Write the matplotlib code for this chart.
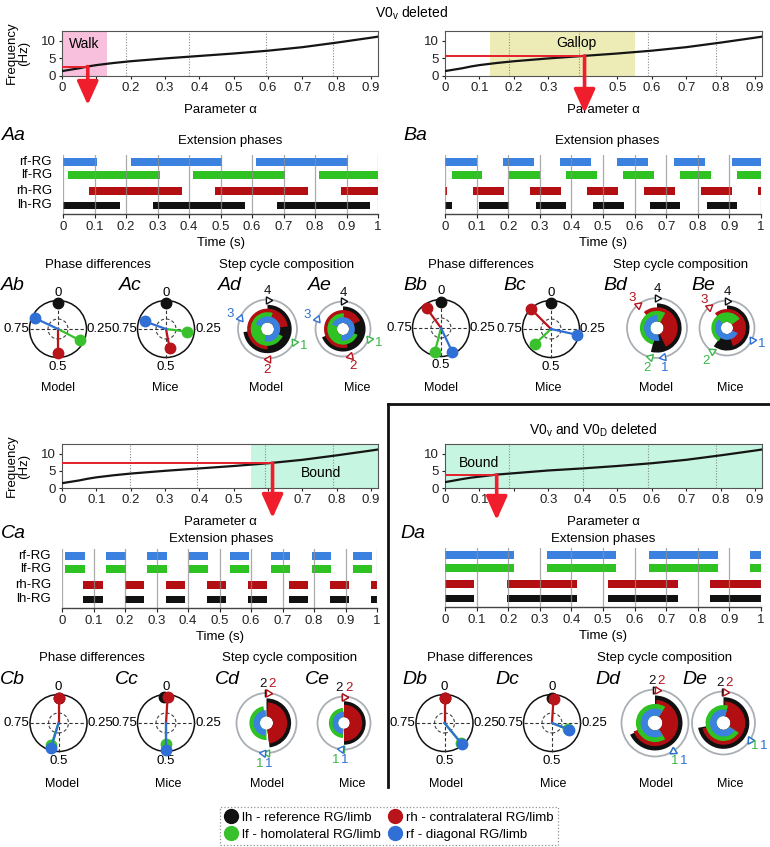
import numpy as np
import matplotlib
matplotlib.use('Agg')
import matplotlib.pyplot as plt
from matplotlib.patches import Circle, Wedge
from matplotlib.lines import Line2D

plt.rcParams['font.family'] = ['Liberation Sans', 'DejaVu Sans']
plt.rcParams['font.size'] = 9.5
plt.rcParams['mathtext.fontset'] = 'custom'
plt.rcParams['mathtext.rm'] = 'Liberation Sans'
plt.rcParams['mathtext.it'] = 'Liberation Sans:italic'

# ---------------- data ----------------
LIMBS = ['lh', 'lf', 'rh', 'rf']
ALPHA = [0.0, 0.05, 0.075, 0.1, 0.15, 0.2, 0.3, 0.4, 0.5, 0.6, 0.7, 0.8, 0.9, 0.92]
FREQ_V0V = [1.4, 2.2, 2.7, 3.1, 3.7, 4.2, 5.0, 5.7, 6.4, 7.2, 8.2, 9.5, 10.9, 11.2]
FREQ_V0V_V0D = [1.7, 2.6, 3.0, 3.3, 3.9, 4.3, 5.1, 5.7, 6.4, 7.2, 8.2, 9.5, 10.9, 11.2]
ALPHA_TICKS = [0.0, 0.1, 0.2, 0.3, 0.4, 0.5, 0.6, 0.7, 0.8, 0.9]
FREQ_TICKS = [0, 5, 10]
TIME_TICKS = [0.0, 0.1, 0.2, 0.3, 0.4, 0.5, 0.6, 0.7, 0.8, 0.9, 1.0]

# operating points (alpha, frequency) and gait regions
OP_A = (0.075, 2.7)
OP_B = (0.405, 5.7)
OP_C = (0.613, 7.2)
OP_D = (0.15, 3.8)
REGION_A = (0.0, 0.13)
REGION_B = (0.13, 0.55)
REGION_C = (0.55, 0.92)
REGION_D = (0.0, 0.92)
GRID_A = [0.185, 0.37, 0.595, 0.79]
GRID_B = [0.185, 0.39, 0.59, 0.787]
GRID_C = [0.198, 0.394, 0.59, 0.79]
GRID_D = [0.185, 0.40, 0.59, 0.787]

# extension phases (start, end) in seconds
AA_RF = [(0.0, 0.107), (0.215, 0.506), (0.612, 0.905)]
AA_LF = [(0.015, 0.308), (0.414, 0.706), (0.812, 1.0)]
AA_RH = [(0.084, 0.379), (0.483, 0.778), (0.882, 1.0)]
AA_LH = [(0.0, 0.18), (0.285, 0.578), (0.68, 0.975)]

BA_RF = [(0.0, 0.102), (0.185, 0.282), (0.365, 0.462), (0.545, 0.643), (0.726, 0.823), (0.907, 1.0)]
BA_LF = [(0.021, 0.118), (0.203, 0.30), (0.383, 0.48), (0.563, 0.66), (0.745, 0.841), (0.925, 1.0)]
BA_RH = [(0.0, 0.006), (0.089, 0.187), (0.269, 0.367), (0.45, 0.549), (0.631, 0.728), (0.811, 0.909), (0.99, 1.0)]
BA_LH = [(0.0, 0.023), (0.108, 0.204), (0.287, 0.384), (0.467, 0.565), (0.649, 0.745), (0.829, 0.925)]

CA_RF = [(0.011, 0.072), (0.141, 0.202), (0.271, 0.333), (0.402, 0.463), (0.532, 0.593), (0.663, 0.724), (0.793, 0.855), (0.924, 0.985)]
CA_LF = [(0.011, 0.072), (0.141, 0.202), (0.271, 0.333), (0.402, 0.463), (0.532, 0.593), (0.663, 0.724), (0.793, 0.855), (0.924, 0.985)]
CA_RH = [(0.068, 0.129), (0.199, 0.26), (0.329, 0.391), (0.46, 0.521), (0.59, 0.651), (0.721, 0.782), (0.851, 0.912), (0.981, 1.0)]
CA_LH = [(0.068, 0.129), (0.199, 0.26), (0.329, 0.391), (0.46, 0.521), (0.59, 0.651), (0.721, 0.782), (0.851, 0.912), (0.981, 1.0)]

DA_RF = [(0.0, 0.219), (0.324, 0.542), (0.645, 0.863), (0.966, 1.0)]
DA_LF = [(0.0, 0.219), (0.324, 0.542), (0.645, 0.863), (0.966, 1.0)]
DA_RH = [(0.0, 0.093), (0.196, 0.417), (0.517, 0.736), (0.839, 1.0)]
DA_LH = [(0.0, 0.093), (0.196, 0.417), (0.517, 0.736), (0.839, 1.0)]

# phase differences (order lh, lf, rh, rf)
PD_AB_PHASE = [0.0, 0.326, 0.5, 0.82]
PD_AB_LEN = [0.92, 0.86, 0.84, 0.90]
PD_AC_PHASE = [0.0, 0.27, 0.47, 0.805]
PD_AC_LEN = [0.92, 0.74, 0.68, 0.80]
PD_BB_PHASE = [0.0, 0.54, 0.90, 0.43]
PD_BB_LEN = [0.92, 0.86, 0.86, 0.92]
PD_BC_PHASE = [0.0, 0.63, 0.875, 0.285]
PD_BC_LEN = [0.92, 0.78, 0.97, 0.95]
PD_CB_PHASE = [0.0, 0.55, 0.0, 0.545]
PD_CB_LEN = [0.88, 0.82, 0.88, 0.93]
PD_CC_PHASE = [0.99, 0.5, 0.01, 0.5]
PD_CC_LEN = [0.9, 0.74, 0.9, 0.93]
PD_DB_PHASE = [0.0, 0.39, 0.0, 0.39]
PD_DB_LEN = [0.86, 0.9, 0.86, 0.94]
PD_DC_PHASE = [0.0, 0.31, 0.01, 0.31]
PD_DC_LEN = [0.86, 0.6, 0.86, 0.63]

# step cycle composition (order lh, lf, rh, rf)
SC_AD_ONSET = [0.0, 0.32, 0.5, 0.81]
SC_AD_DUTY = [0.73, 0.73, 0.73, 0.73]
SC_AE_ONSET = [0.0, 0.31, 0.46, 0.81]
SC_AE_DUTY = [0.69, 0.70, 0.72, 0.72]
SC_A_ORDER = ['4', '1', '2', '3']
SC_BD_ONSET = [0.0, 0.54, 0.89, 0.47]
SC_BD_DUTY = [0.54, 0.54, 0.54, 0.54]
SC_BE_ONSET = [0.0, 0.59, 0.89, 0.32]
SC_BE_DUTY = [0.60, 0.56, 0.56, 0.56]
SC_B_ORDER = ['4', '2', '3', '1']
SC_CD_ONSET = [0.0, 0.50, 0.01, 0.52]
SC_CD_DUTY = [0.48, 0.47, 0.47, 0.47]
SC_CE_ONSET = [0.0, 0.51, 0.0, 0.52]
SC_CE_DUTY = [0.50, 0.48, 0.50, 0.48]
SC_C_ORDER = ['2', '1', '2', '1']
SC_DD_ONSET = [0.0, 0.41, 0.01, 0.41]
SC_DD_DUTY = [0.68, 0.68, 0.68, 0.68]
SC_DE_ONSET = [0.0, 0.34, 0.01, 0.34]
SC_DE_DUTY = [0.72, 0.70, 0.70, 0.70]
SC_D_ORDER = ['2', '1', '2', '1']

LEGEND_LABELS = ['lh - reference RG/limb', 'lf - homolateral RG/limb',
                 'rh - contralateral RG/limb', 'rf - diagonal RG/limb']
ROW_LABELS = ['rf-RG', 'lf-RG', 'rh-RG', 'lh-RG']

# ---------------- style ----------------
BAR_C = {'lh': '#111111', 'lf': '#2fc223', 'rh': '#b30e12', 'rf': '#3b82e0'}
DOT_C = {'lh': '#111111', 'lf': '#39c12d', 'rh': '#b8141a', 'rf': '#2f6fd6'}
NUM_C = {'lh': '#111111', 'lf': '#3bb54a', 'rh': '#b5121b', 'rf': '#2e6fd8'}
ARROW_C = '#f01e2c'
LINE_C = '#e4202c'

W, H = 770, 847
fig = plt.figure(figsize=(W / 100, H / 100), dpi=100)


def px_axes(left, top, width, height):
    ax = fig.add_axes([left / W, 1 - (top + height) / H, width / W, height / H])
    ax.patch.set_alpha(0)
    return ax


def ftext(x, y, s, **kw):
    kw.setdefault('ha', 'center')
    kw.setdefault('va', 'center')
    fig.text(x / W, 1 - y / H, s, **kw)


def freq_panel(left, top, width, height, freq, region, rcolor, rlabel, rlabel_xy,
               op, tip_px, grid, hide_tick):
    ax = px_axes(left, top, width, height)
    ax.set_xlim(0, 0.92)
    ax.set_ylim(0, 12.8)
    ax.axvspan(region[0], region[1], color=rcolor, lw=0, zorder=0)
    for g in grid:
        ax.axvline(g, color='#8a8a8a', ls=(0, (1, 1.5)), lw=0.8, zorder=1)
    ax.plot(ALPHA, freq, color='#151515', lw=1.6, zorder=3)
    ax.plot([0, op[0]], [op[1], op[1]], color=LINE_C, lw=1.4, zorder=4)
    ax.text(rlabel_xy[0], rlabel_xy[1], rlabel, ha='center', va='center', fontsize=10)
    tip_frac = -(tip_px - (top + height)) / height
    ax.annotate('', xy=(op[0], tip_frac), xycoords=('data', 'axes fraction'),
                xytext=(op[0], op[1]), textcoords='data',
                arrowprops=dict(arrowstyle='-|>,head_width=0.36,head_length=0.8',
                                color=ARROW_C, lw=2.6, shrinkA=0, shrinkB=0,
                                mutation_scale=18),
                annotation_clip=False, zorder=6)
    ax.set_xticks(ALPHA_TICKS)
    ax.set_xticklabels(['' if abs(t - hide_tick) < 1e-6 else ('0' if t == 0 else f'{t:g}')
                        for t in ALPHA_TICKS])
    ax.set_yticks(FREQ_TICKS)
    ax.tick_params(length=2.5, width=0.8, pad=2, colors='#222', labelsize=9.5)
    for s in ax.spines.values():
        s.set_color('#555')
        s.set_linewidth(0.8)
    ax.set_xlabel('Parameter \u03b1', labelpad=7, fontsize=9.5)
    return ax


def ext_panel(left, top, width, bars, show_rows):
    height = 59
    ax = px_axes(left, top, width, height)
    ax.set_xlim(0, 1)
    ax.set_ylim(0, height)
    rows = {'rf': 52, 'lf': 39, 'rh': 23, 'lh': 8.5}
    for limb in ['rf', 'lf', 'rh', 'lh']:
        segs = bars[limb]
        ax.broken_barh([(s, e - s) for s, e in segs], (rows[limb] - 3.6, 7.2),
                       facecolors=BAR_C[limb], zorder=2)
    for t in TIME_TICKS:
        ax.axvline(t, color='#8f8f8f', lw=0.9, alpha=0.75, zorder=3)
    for side in ['top', 'right', 'left']:
        ax.spines[side].set_visible(False)
    ax.spines['bottom'].set_color('#444')
    ax.spines['bottom'].set_linewidth(1.0)
    ax.set_yticks([])
    ax.set_xticks(TIME_TICKS)
    ax.set_xticklabels(['0' if t == 0 else ('1' if t == 1 else f'{t:g}') for t in TIME_TICKS])
    ax.tick_params(axis='x', length=3, width=0.8, pad=2, colors='#222', labelsize=9.5)
    ax.set_xlabel('Time (s)', labelpad=3, fontsize=9.5)
    if show_rows:
        for name, limb in zip(ROW_LABELS, ['rf', 'lf', 'rh', 'lh']):
            ax.text(-0.035, rows[limb], name, ha='right', va='center', fontsize=9.5)
    return ax


def phase_panel(cx, cy, phases, lengths, R=28.5):
    half = R + 32
    ax = px_axes(cx - half, cy - half, 2 * half, 2 * half)
    ax.set_xlim(-half, half)
    ax.set_ylim(-half, half)
    ax.set_aspect('equal')
    ax.axis('off')
    ax.add_patch(Circle((0, 0), R, fill=False, ec='#111', lw=1.1, zorder=1))
    ax.add_patch(Circle((0, 0), 0.35 * R, fill=False, ec='#444', lw=0.8,
                        ls=(0, (3, 2)), zorder=1))
    ax.plot([-R, R], [0, 0], color='#333', lw=0.8, ls=(0, (3, 2)), zorder=1)
    ax.plot([0, 0], [-R, R], color='#333', lw=0.8, ls=(0, (3, 2)), zorder=1)
    ax.text(0, R + 8, '0', ha='center', va='center', fontsize=9.5)
    ax.text(0, -R - 9, '0.5', ha='center', va='center', fontsize=9.5)
    ax.text(-R - 0.5, 0, '0.75', ha='right', va='center', fontsize=9.5)
    ax.text(R + 0.5, 0, '0.25', ha='left', va='center', fontsize=9.5)
    for i, limb in enumerate(LIMBS):
        ph, ln = phases[i], lengths[i]
        x = ln * R * np.sin(2 * np.pi * ph)
        y = ln * R * np.cos(2 * np.pi * ph)
        if limb != 'lh':
            ax.plot([0, x], [0, y], color=DOT_C[limb], lw=1.6, zorder=3 + i)
        ax.plot(x, y, 'o', ms=7.5, color=DOT_C[limb], zorder=3 + i)
    return ax


def step_panel(cx, cy, R, onset, duty, order):
    half = R + 22
    ax = px_axes(cx - half, cy - half, 2 * half, 2 * half)
    ax.set_xlim(-half, half)
    ax.set_ylim(-half, half)
    ax.set_aspect('equal')
    ax.axis('off')
    ax.add_patch(Circle((0, 0), R, fill=False, ec='#a9afb4', lw=1.3, zorder=1))
    hole = 0.22 * R
    radius = {'lh': 0.82, 'rh': 0.69, 'lf': 0.57, 'rf': 0.43}
    for limb in ['lh', 'rh', 'lf', 'rf']:
        i = LIMBS.index(limb)
        p0, p1 = onset[i], onset[i] + duty[i]
        r = radius[limb] * R
        ax.add_patch(Wedge((0, 0), r, 90 - 360 * p1, 90 - 360 * p0, width=r - hole,
                           facecolor=BAR_C[limb], edgecolor='none', zorder=2))
    # triangles and order numbers
    for i, limb in enumerate(LIMBS):
        ph = onset[i]
        x, y = R * np.sin(2 * np.pi * ph), R * np.cos(2 * np.pi * ph)
        ax.plot(x, y, marker=(3, 0, -360 * ph - 90), ms=6, mfc='white',
                mec=NUM_C[limb], mew=1.0, zorder=5, ls='None')
        partners = [j for j in range(4) if j != i and
                    min(abs(onset[j] - ph), 1 - abs(onset[j] - ph)) < 0.04]
        dx = 0
        base = ph
        if partners:
            j = partners[0]
            d = onset[j] - ph
            d = d - round(d)
            base = ph + d / 2
            dx = -4.5 if i < j else 4.5
        dist = R + 9 if np.cos(2 * np.pi * base) > 0.5 else R + 11
        lx = dist * np.sin(2 * np.pi * base) + dx
        ly = dist * np.cos(2 * np.pi * base)
        ax.text(lx, ly, order[i], color=NUM_C[limb], ha='center', va='center',
                fontsize=9.5, zorder=6)
    return ax


# ---------------- panel A / B (V0v deleted) ----------------
ftext(411, 13, 'V0$_\\mathregular{v}$ deleted', fontsize=10)
ftext(18, 53, 'Frequency\n(Hz)', rotation=90, linespacing=1.05, fontsize=9.5)
freq_panel(62, 31, 316, 45, FREQ_V0V, REGION_A, '#f8c0dc', 'Walk', (0.065, 9.0),
           OP_A, 105, GRID_A, 0.1)
freq_panel(445, 31, 317, 45, FREQ_V0V, REGION_B, '#eeecb6', 'Gallop', (0.38, 9.5),
           OP_B, 113, GRID_B, 0.4)

ftext(230, 141, 'Extension phases')
ftext(607, 141, 'Extension phases')
ext_panel(63, 155, 315, {'rf': AA_RF, 'lf': AA_LF, 'rh': AA_RH, 'lh': AA_LH}, True)
ext_panel(445, 155, 316, {'rf': BA_RF, 'lf': BA_LF, 'rh': BA_RH, 'lh': BA_LH}, False)

ftext(98, 265, 'Phase differences')
ftext(287, 265, 'Step cycle composition')
ftext(481, 265, 'Phase differences')
ftext(681, 265, 'Step cycle composition')

phase_panel(58, 329, PD_AB_PHASE, PD_AB_LEN)
phase_panel(166, 329, PD_AC_PHASE, PD_AC_LEN)
phase_panel(441, 328, PD_BB_PHASE, PD_BB_LEN)
phase_panel(551, 329, PD_BC_PHASE, PD_BC_LEN)
step_panel(267.5, 329, 29.5, SC_AD_ONSET, SC_AD_DUTY, SC_A_ORDER)
step_panel(343, 329, 27.5, SC_AE_ONSET, SC_AE_DUTY, SC_A_ORDER)
step_panel(657, 328, 30, SC_BD_ONSET, SC_BD_DUTY, SC_B_ORDER)
step_panel(727, 328, 27.5, SC_BE_ONSET, SC_BE_DUTY, SC_B_ORDER)

for x, s in [(58, 'Model'), (165, 'Mice'), (266, 'Model'), (357, 'Mice'),
             (441, 'Model'), (548, 'Mice'), (656, 'Model'), (730, 'Mice')]:
    ftext(x, 388, s, fontsize=9)

# ---------------- panel C / D ----------------
ftext(18, 466, 'Frequency\n(Hz)', rotation=90, linespacing=1.05, fontsize=9.5)
freq_panel(62, 444, 316, 44, FREQ_V0V, REGION_C, '#c6f5e2', 'Bound', (0.755, 4.4),
           OP_C, 518, GRID_C, 0.6)
ftext(593, 430, 'V0$_\\mathregular{v}$ and V0$_\\mathregular{D}$ deleted', fontsize=10)
freq_panel(445, 444, 317, 44, FREQ_V0V_V0D, REGION_D, '#c6f5e2', 'Bound', (0.1, 7.3),
           OP_D, 520, GRID_D, 0.2)

ftext(221, 539, 'Extension phases')
ftext(603, 539, 'Extension phases')
ext_panel(62, 549, 315, {'rf': CA_RF, 'lf': CA_LF, 'rh': CA_RH, 'lh': CA_LH}, True)
ext_panel(445, 548, 316, {'rf': DA_RF, 'lf': DA_LF, 'rh': DA_RH, 'lh': DA_LH}, False)

ftext(92, 658, 'Phase differences')
ftext(290, 658, 'Step cycle composition')
ftext(480, 658, 'Phase differences')
ftext(665, 658, 'Step cycle composition')

phase_panel(58.5, 723, PD_CB_PHASE, PD_CB_LEN)
phase_panel(166, 723, PD_CC_PHASE, PD_CC_LEN)
phase_panel(444.5, 723, PD_DB_PHASE, PD_DB_LEN)
phase_panel(552, 723, PD_DC_PHASE, PD_DC_LEN)
step_panel(266.5, 723, 30, SC_CD_ONSET, SC_CD_DUTY, SC_C_ORDER)
step_panel(344, 723, 26.5, SC_CE_ONSET, SC_CE_DUTY, SC_C_ORDER)
step_panel(655, 723, 33.5, SC_DD_ONSET, SC_DD_DUTY, SC_D_ORDER)
step_panel(723.5, 723, 31.5, SC_DE_ONSET, SC_DE_DUTY, SC_D_ORDER)

for x, s in [(62, 'Model'), (168, 'Mice'), (267, 'Model'), (352, 'Mice'),
             (446, 'Model'), (553, 'Mice'), (656, 'Model'), (730, 'Mice')]:
    ftext(x, 784, s, fontsize=9)

# ---------------- panel letters ----------------
letters = [('Aa', 14, 135), ('Ab', 13, 286), ('Ac', 130, 286), ('Ad', 230, 286), ('Ae', 320, 286),
           ('Ba', 415, 135), ('Bb', 415, 286), ('Bc', 515, 286), ('Bd', 615, 286), ('Be', 703, 286),
           ('Ca', 13, 533), ('Cb', 12, 679), ('Cc', 127, 679), ('Cd', 227, 679), ('Ce', 317, 679),
           ('Da', 413, 533), ('Db', 415, 680), ('Dc', 507, 680), ('Dd', 608, 680), ('De', 695, 680)]
for s, x, y in letters:
    ftext(x, y, s, fontsize=14, style='italic')

# ---------------- D frame ----------------
fig.add_artist(Line2D([388 / W, 1.0], [1 - 404 / H, 1 - 404 / H], color='#111', lw=2))
fig.add_artist(Line2D([388 / W, 388 / W], [1 - 404 / H, 1 - 787 / H], color='#111', lw=2))

# ---------------- legend ----------------
handles = [Line2D([], [], ls='None', marker='o', ms=10, mfc=DOT_C[l], mec=DOT_C[l])
           for l in LIMBS]
leg = fig.legend(handles, LEGEND_LABELS, ncol=2, loc='center',
                 bbox_to_anchor=(389 / W, 1 - 826 / H), frameon=True, fancybox=False,
                 handlelength=1.0, handletextpad=0.3, columnspacing=0.6,
                 borderpad=0.35, labelspacing=0.35, fontsize=9.5)
leg.get_frame().set_linestyle(':')
leg.get_frame().set_edgecolor('#777')
leg.get_frame().set_linewidth(0.9)

fig.savefig('out.png', dpi=100)
